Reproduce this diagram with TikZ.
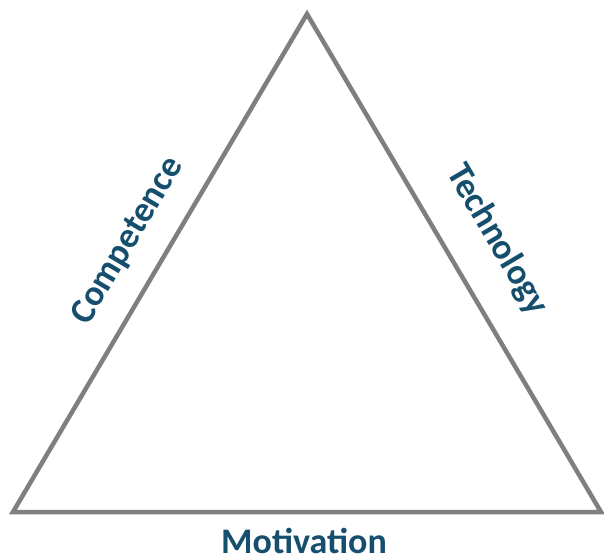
\documentclass[tikz,border=0pt]{standalone}
\usepackage{fontspec}
\setmainfont{Carlito}
\definecolor{labelblue}{RGB}{22,79,110}
\definecolor{edgegray}{RGB}{127,127,127}
\begin{document}
\begin{tikzpicture}[x=1pt,y=-1pt,
  edge/.style={draw=edgegray,line width=4.5pt,line join=miter},
  lbl/.style={text=labelblue,font=\fontsize{36}{40}\selectfont\bfseries,inner sep=0pt}]
\useasboundingbox (0,0) rectangle (604,558);
\coordinate (top) at (307,14);
\coordinate (bl) at (13,512);
\coordinate (br) at (601,512);
\draw[edge] (top) -- (bl) -- (br) -- cycle;
\node[lbl,rotate=59.5] (comp) at (128,241) {Competence};
\node[lbl,rotate=-59.5] (tech) at (497,240) {Technology};
\node[lbl] (mot) at (304,541) {Motivation};
\end{tikzpicture}
\end{document}
